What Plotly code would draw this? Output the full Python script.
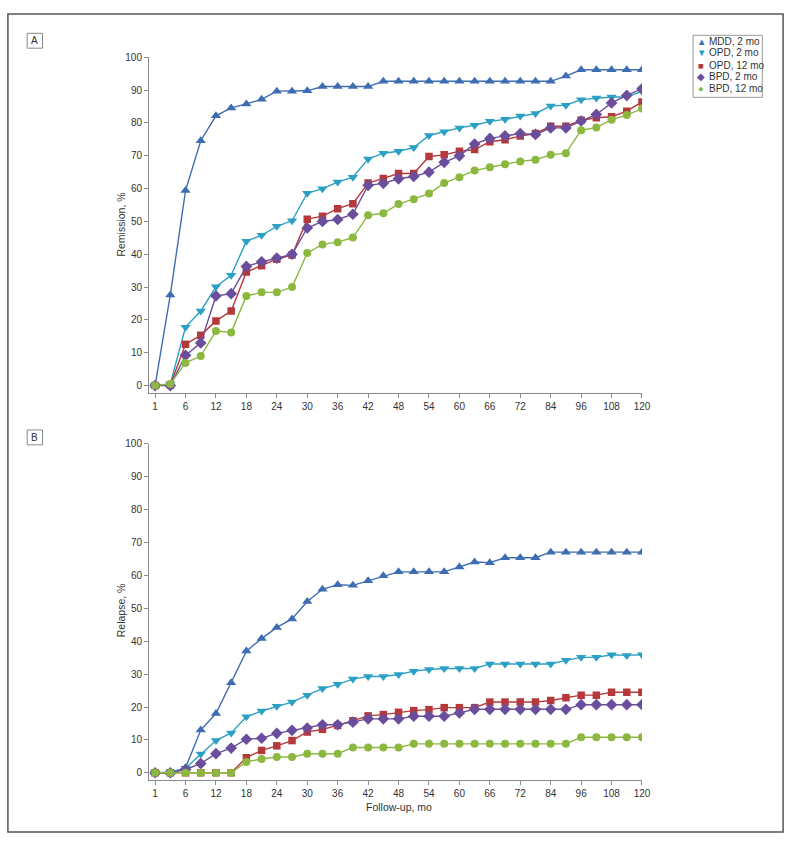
import plotly.graph_objects as go

months = [1, 3, 6, 9, 12, 15, 18, 21, 24, 27, 30, 33, 36, 39, 42, 45, 48, 51, 54, 57,
          60, 63, 66, 69, 72, 78, 84, 90, 96, 102, 108, 114, 120]
tick_labels = [1, 6, 12, 18, 24, 30, 36, 42, 48, 54, 60, 66, 72, 84, 96, 108, 120]
y_ticks = [0, 10, 20, 30, 40, 50, 60, 70, 80, 90, 100]

series_names = ["MDD, 2 mo", "OPD, 2 mo", "OPD, 12 mo", "BPD, 2 mo", "BPD, 12 mo"]

# Panel A: Remission, %
mdd_a = [0, 27.6, 59.4, 74.6, 82.2, 84.6, 85.8, 87.2, 89.7, 89.7, 89.8, 91.1, 91.1, 91.1, 91.1,
         92.7, 92.7, 92.7, 92.7, 92.7, 92.7, 92.7, 92.7, 92.7, 92.7, 92.7, 92.7, 94.3,
         96.2, 96.2, 96.2, 96.2, 96.2]
opd2_a = [0, 0.5, 17.8, 22.7, 30.1, 33.6, 44.0, 45.8, 48.5, 50.2, 58.6, 60.0, 62.0, 63.5, 69.0,
          70.8, 71.4, 72.5, 76.2, 77.3, 78.5, 79.3, 80.5, 81.1, 82.1, 82.9, 85.2, 85.4,
          87.1, 87.6, 87.9, 87.9, 89.7]
opd12_a = [0, 0.2, 12.6, 15.3, 19.7, 22.7, 34.6, 36.5, 38.5, 39.8, 50.7, 51.6, 53.9, 55.4, 61.7,
           63.1, 64.6, 64.6, 69.8, 70.3, 71.4, 71.9, 74.3, 74.9, 76.0, 76.8, 79.0, 79.0,
           80.8, 81.6, 81.9, 83.6, 86.4]
bpd2_a = [0, 0, 9.2, 13.0, 27.3, 28.0, 36.3, 37.7, 38.8, 40.0, 48.0, 50.0, 50.6, 52.2, 61.0,
          61.6, 63.0, 63.7, 65.0, 68.0, 70.0, 73.6, 75.3, 76.1, 76.8, 76.5, 78.5, 78.5,
          80.6, 82.6, 86.1, 88.4, 90.4]
bpd12_a = [0, 0.5, 6.9, 9.0, 16.6, 16.2, 27.3, 28.4, 28.4, 30.0, 40.4, 43.0, 43.7, 45.1, 51.9,
           52.5, 55.3, 56.8, 58.5, 61.7, 63.5, 65.5, 66.5, 67.4, 68.3, 68.8, 70.3, 70.8,
           77.8, 78.6, 81.0, 82.4, 84.4]

# Panel B: Relapse, %
mdd_b = [0, 0, 1.5, 13.0, 18.0, 27.4, 37.0, 40.8, 44.2, 46.8, 52.1, 55.8, 57.2, 57.0, 58.4,
         59.9, 61.1, 61.1, 61.1, 61.1, 62.6, 64.1, 63.9, 65.4, 65.4, 65.4, 67.1, 67.1,
         67.1, 67.1, 67.1, 67.1, 67.1]
opd2_b = [0, 0.2, 1.4, 5.7, 9.8, 12.1, 17.0, 18.8, 20.2, 21.5, 23.6, 25.6, 26.9, 28.5, 29.3,
          29.3, 29.9, 30.9, 31.4, 31.7, 31.7, 31.7, 33.1, 33.1, 33.1, 33.1, 33.1, 34.2,
          35.1, 35.1, 35.9, 35.7, 35.9]
opd12_b = [0, 0, 0, 0, 0, 0, 4.6, 6.8, 8.2, 9.8, 12.4, 13.2, 14.4, 15.8, 17.3,
           17.7, 18.4, 18.9, 19.2, 19.8, 19.8, 19.8, 21.5, 21.5, 21.5, 21.5, 22.0, 22.8,
           23.6, 23.6, 24.5, 24.5, 24.5]
bpd2_b = [0, 0, 1.0, 2.8, 5.8, 7.5, 10.2, 10.5, 12.0, 12.9, 13.6, 14.6, 14.6, 15.4, 16.4,
          16.4, 16.4, 17.2, 17.2, 17.2, 18.2, 19.3, 19.3, 19.3, 19.3, 19.3, 19.3, 19.3,
          20.7, 20.7, 20.7, 20.7, 20.7]
bpd12_b = [0, 0, 0, 0, 0, 0, 3.3, 4.2, 4.8, 4.8, 5.8, 5.8, 5.8, 7.7, 7.7,
           7.7, 7.7, 8.8, 8.8, 8.8, 8.8, 8.8, 8.8, 8.8, 8.8, 8.8, 8.8, 8.8,
           10.8, 10.8, 10.8, 10.8, 10.8]

colors = ["#3f6db2", "#2ba0c4", "#b5393b", "#6a4e9c", "#8cb840"]
symbols = ["triangle-up", "triangle-down", "square", "diamond", "circle"]
sizes = [9, 9, 7.5, 9, 8]
glyphs = ["\u25B2", "\u25BC", "\u25A0", "\u25C6", "\u25CF"]

panel_a = [mdd_a, opd2_a, opd12_a, bpd2_a, bpd12_a]
panel_b = [mdd_b, opd2_b, opd12_b, bpd2_b, bpd12_b]

W, H = 800, 841
FONT = "Liberation Sans Narrow, Arial Narrow, Liberation Sans, Arial, sans-serif"
TXT = "#333333"
AX = "#8a8a8a"

x_cat = [str(m) for m in months]

fig = go.Figure()
for panel, (xa, ya) in ((panel_a, ("x", "y")), (panel_b, ("x2", "y2"))):
    for i, vals in enumerate(panel):
        fig.add_trace(go.Scatter(
            x=x_cat, y=vals, mode="lines+markers", name=series_names[i],
            xaxis=xa, yaxis=ya, showlegend=False,
            line=dict(color=colors[i], width=1.4),
            marker=dict(symbol=symbols[i], size=sizes[i], color=colors[i],
                        line=dict(width=0)),
        ))

def px_x(p):
    return p / W

def px_y(p):
    return 1 - p / H

xdom = [px_x(150.7), px_x(649.3)]
common_x = dict(type="category", categoryorder="array", categoryarray=x_cat,
                range=[-0.4, len(months) - 1], tickmode="array",
                tickvals=[str(t) for t in tick_labels], ticktext=[str(t) for t in tick_labels],
                ticks="outside", ticklen=4, tickcolor=AX, showline=True, linecolor=AX,
                linewidth=1, showgrid=False, zeroline=False,
                tickfont=dict(family=FONT, size=10, color=TXT), fixedrange=True)
common_y = dict(range=[-2.33, 100], tickmode="array", tickvals=y_ticks,
                ticks="outside", ticklen=4, tickcolor=AX, showline=True, linecolor=AX,
                linewidth=1, showgrid=False, zeroline=False,
                tickfont=dict(family=FONT, size=10, color=TXT), fixedrange=True)

fig.update_layout(
    width=W, height=H, margin=dict(l=0, r=0, t=0, b=0),
    paper_bgcolor="white", plot_bgcolor="white", showlegend=False,
    font=dict(family=FONT, size=10, color=TXT),
    xaxis=dict(domain=xdom, anchor="y", **common_x),
    yaxis=dict(domain=[px_y(390), px_y(51.7)], anchor="x", **common_y),
    xaxis2=dict(domain=xdom, anchor="y2", **common_x),
    yaxis2=dict(domain=[px_y(780), px_y(441.1)], anchor="x2", **common_y),
)

shapes = [
    # outer frame
    dict(type="rect", xref="paper", yref="paper", x0=px_x(8), x1=px_x(792),
         y0=px_y(832), y1=px_y(8), line=dict(color="#555555", width=1.5)),
    # panel label boxes
    dict(type="rect", xref="paper", yref="paper", x0=px_x(27.5), x1=px_x(43),
         y0=px_y(42.5), y1=px_y(27.5), line=dict(color="#888888", width=1)),
    dict(type="rect", xref="paper", yref="paper", x0=px_x(27.5), x1=px_x(43),
         y0=px_y(442), y1=px_y(427), line=dict(color="#888888", width=1)),
    # legend box
    dict(type="rect", xref="paper", yref="paper", x0=px_x(701), x1=px_x(771),
         y0=px_y(92), y1=px_y(29.5), line=dict(color="#999999", width=1)),
]

def ann(text, x, y, size=10, angle=0, xanchor="center", color=TXT):
    return dict(text=text, x=px_x(x), y=px_y(y), xref="paper", yref="paper",
                xanchor=xanchor, yanchor="middle", textangle=angle, showarrow=False,
                font=dict(family=FONT, size=size, color=color))

annotations = [
    ann("A", 35.2, 35.2, 10),
    ann("B", 35.2, 434.7, 10),
    ann("Remission, %", 122.5, 220, 10.5, -90),
    ann("Relapse, %", 122.5, 608.5, 10.5, -90),
    ann("Follow-up, mo", 403.5, 806.5, 10.5),
]

leg_y = [35.7, 47.3, 59.5, 71.3, 82.7]
for i, name in enumerate(series_names):
    annotations.append(ann(glyphs[i], 709, leg_y[i], 9.5, 0, "center", colors[i]))
    annotations.append(ann(name, 715.5, leg_y[i], 10, 0, "left"))

fig.update_layout(shapes=shapes, annotations=annotations)
fig.write_html(
    "out.html",
    config={"displayModeBar": False},
    post_script=("document.body.style.margin='0';"
                 "document.body.style.overflow='hidden';"
                 "document.documentElement.style.overflow='hidden';"),
)
